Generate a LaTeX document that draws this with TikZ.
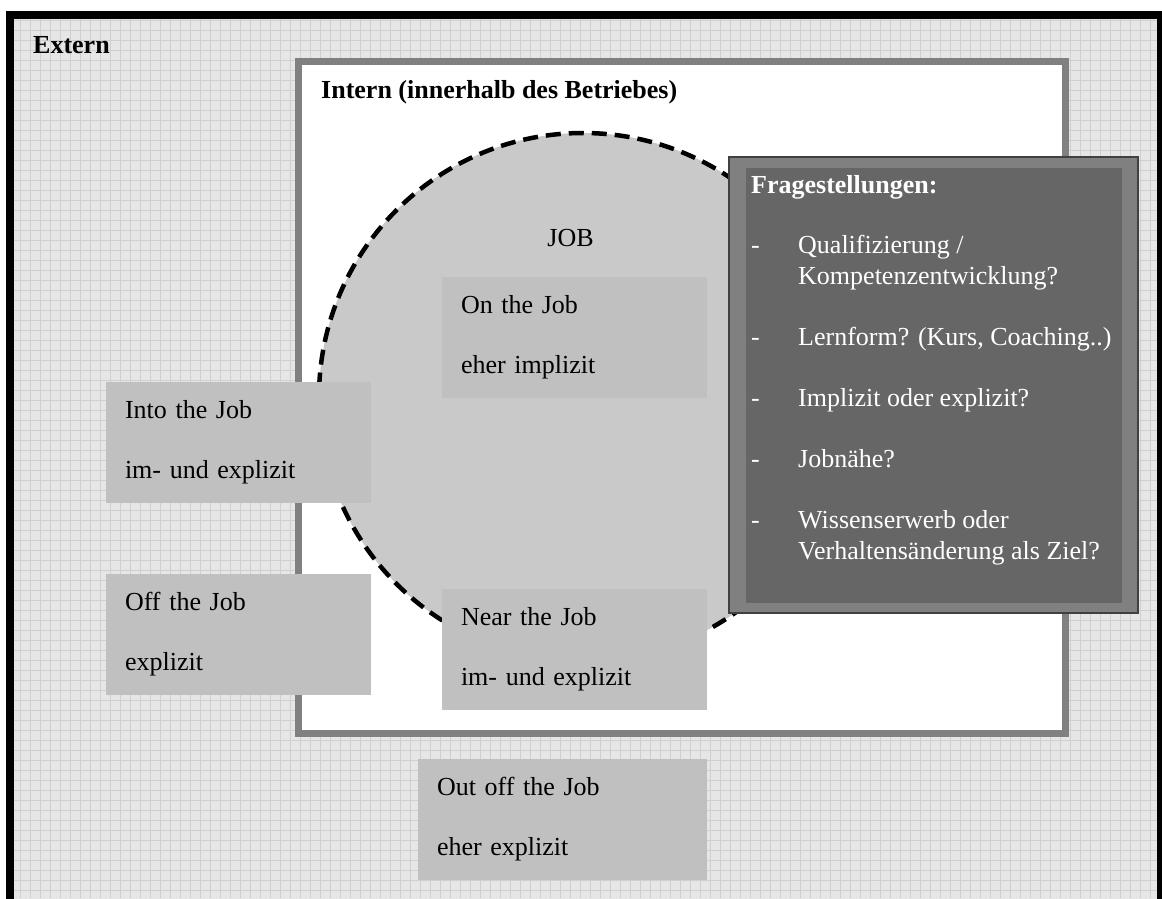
\documentclass[tikz,border=0pt]{standalone}
\usepackage{fontspec}
\setmainfont{Liberation Serif}
\usepackage{tikz}

\definecolor{kastengrau}{HTML}{C0C0C0}
\definecolor{rahmengrau}{HTML}{808080}
\definecolor{fragengrau}{HTML}{666666}
\definecolor{hintergrund}{HTML}{E6E6E6}
\definecolor{rasterlinie}{HTML}{CFCFCF}
\definecolor{kreisgrau}{HTML}{C9C9C9}

\begin{document}
\begin{tikzpicture}[x=1pt, y=-1pt, font=\fontsize{26}{31}\selectfont]
\tikzstyle{kasten}=[fill=kastengrau, anchor=north west, align=left, inner xsep=19pt, text width=227pt, minimum height=121pt, outer sep=0pt];
\tikzstyle{titel}=[anchor=base west, inner sep=0pt, font=\fontsize{26}{31}\selectfont\bfseries];
\tikzstyle{rahmen}=[anchor=north west, fill=rahmengrau, draw=black!75, line width=1.2pt, minimum width=409pt, minimum height=456pt, outer sep=0pt];
\tikzstyle{feld}=[anchor=north west, fill=fragengrau, minimum width=376pt, minimum height=435pt, outer sep=0pt];
\tikzstyle{kreis}=[circle, draw, fill=kreisgrau, line width=4.5pt, dash pattern=on 15pt off 8pt, minimum size=528pt, inner sep=0pt];
\useasboundingbox (0,0) rectangle (1162,898);
\clip (0,0) rectangle (1162,898);
\fill[hintergrund] (10,15) rectangle (1161,910);
\draw[rasterlinie, line width=0.8pt, step=10pt] (14,19) grid (1157,898);
\draw[black, line width=8pt] (10,15) rectangle (1161,910);
\draw[rahmengrau, fill=white, line width=7pt] (298.5,61.5) rectangle (1065.5,733.5);
\path (583,397) node[kreis] (Kreis) {};
\path (33,53) node[titel] (Extern) {Extern};
\path (321,98) node[titel] (Intern) {Intern (innerhalb des Betriebes)};
\path (570.5,246) node[anchor=base, inner sep=0pt] (Job) {JOB};
\path (442,277) node[kasten] (On) {On the Job\\[29pt]eher implizit};
\path (106,382) node[kasten] (Into) {Into the Job\\[29pt]im- und explizit};
\path (106,574) node[kasten] (Off) {Off the Job\\[29pt]explizit};
\path (442,589) node[kasten] (Near) {Near the Job\\[29pt]im- und explizit};
\path (418,759) node[kasten, text width=251pt] (Out) {Out off the Job\\[29pt]eher explizit};
\path (729,157) node[rahmen] (Rahmen) {};
\path (746,168) node[feld] (Feld) {};
\path (751,193) node[anchor=base west, inner sep=0pt, text=white] (Fragen) {%
\begin{tabular}[t]{@{}p{47pt}@{}l@{}}
\multicolumn{2}{@{}l@{}}{\bfseries Fragestellungen:}\\[29pt]
- & Qualifizierung /\\
  & Kompetenzentwicklung?\\[30pt]
- & Lernform? (Kurs, Coaching..)\\[30pt]
- & Implizit oder explizit?\\[30pt]
- & Jobnähe?\\[30pt]
- & Wissenserwerb oder\\
  & Verhaltensänderung als Ziel?
\end{tabular}};
\end{tikzpicture}
\end{document}
